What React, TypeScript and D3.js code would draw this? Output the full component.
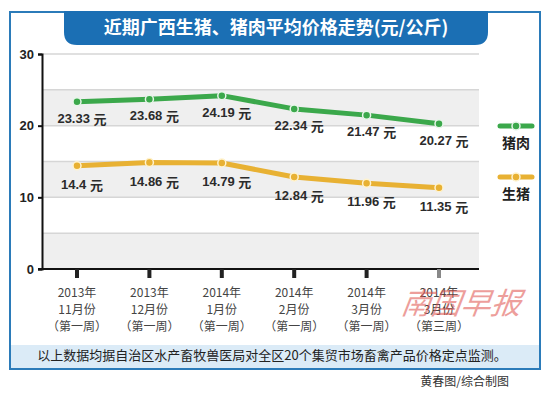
import * as React from 'react';
import * as d3 from 'd3';

const weeks = [
  ['2013年', '11月份', '（第一周）'],
  ['2013年', '12月份', '（第一周）'],
  ['2014年', '1月份', '（第一周）'],
  ['2014年', '2月份', '（第一周）'],
  ['2014年', '3月份', '（第一周）'],
  ['2014年', '3月份', '（第三周）'],
];
const porkPrices = [23.33, 23.68, 24.19, 22.34, 21.47, 20.27];
const hogPrices = [14.4, 14.86, 14.79, 12.84, 11.96, 11.35];
const yTicks = [0, 10, 20, 30];
const gridValues = [5, 10, 15, 20, 25, 30];

const seriesList = [
  { name: '猪肉', values: porkPrices, color: '#3ba84b', ring: '#e8f6ea', labelDy: 18 },
  { name: '生猪', values: hogPrices, color: '#e8b133', ring: '#fff3cf', labelDy: 20 },
];

const cjk = '"Noto Sans CJK SC", "Noto Sans", sans-serif';
const num = '"Liberation Sans", Arial, sans-serif';

const drawChart = (node: SVGSVGElement) => {
  const svg = d3.select(node);
  svg.selectAll('*').remove();

  const left = 42;
  const right = 479;
  const top = 54;
  const bottom = 269;

  const x = d3.scalePoint<number>()
    .domain(d3.range(weeks.length))
    .range([77, 439]);
  const y = d3.scaleLinear()
    .domain([0, 30])
    .range([bottom, top]);

  // frame
  svg.append('rect')
    .attr('x', 10).attr('y', 12)
    .attr('width', 530).attr('height', 357)
    .attr('fill', '#fff')
    .attr('stroke', '#2b7bb9')
    .attr('stroke-width', 2);

  // footer band
  svg.append('rect')
    .attr('x', 11).attr('y', 345)
    .attr('width', 528).attr('height', 23)
    .attr('fill', '#dbebf7');
  svg.append('text')
    .attr('x', 272).attr('y', 356)
    .attr('text-anchor', 'middle')
    .attr('dominant-baseline', 'middle')
    .attr('font-family', cjk)
    .attr('font-size', 13)
    .attr('fill', '#222')
    .text('以上数据均据自治区水产畜牧兽医局对全区20个集贸市场畜禽产品价格定点监测。');

  svg.append('text')
    .attr('x', 509).attr('y', 383)
    .attr('text-anchor', 'end')
    .attr('dominant-baseline', 'middle')
    .attr('font-family', cjk)
    .attr('font-size', 12)
    .attr('fill', '#333')
    .text('黄春图/综合制图');

  // title banner, rounded at bottom
  const tx0 = 64;
  const tx1 = 488;
  const ty0 = 11;
  const ty1 = 45;
  const r = 13;
  svg.append('path')
    .attr('d', `M${tx0},${ty0} H${tx1} V${ty1 - r} Q${tx1},${ty1} ${tx1 - r},${ty1} H${tx0 + r} Q${tx0},${ty1} ${tx0},${ty1 - r} Z`)
    .attr('fill', '#1b6fb4');
  svg.append('text')
    .attr('x', (tx0 + tx1) / 2).attr('y', 29)
    .attr('text-anchor', 'middle')
    .attr('dominant-baseline', 'middle')
    .attr('font-family', cjk)
    .attr('font-size', 18)
    .attr('font-weight', 'bold')
    .attr('fill', '#fff')
    .text('近期广西生猪、猪肉平均价格走势(元/公斤)');

  // alternating bands
  [[0, 5], [10, 15], [20, 25]].forEach(([a, b]) => {
    svg.append('rect')
      .attr('x', left).attr('y', y(b))
      .attr('width', right - left).attr('height', y(a) - y(b))
      .attr('fill', '#efefef');
  });
  svg.append('g')
    .selectAll('line')
    .data(gridValues)
    .join('line')
    .attr('x1', left).attr('x2', right)
    .attr('y1', d => y(d)).attr('y2', d => y(d))
    .attr('stroke', '#d6d6d6')
    .attr('stroke-width', 1.5);

  // y axis
  const yAxis = svg.append('g')
    .attr('transform', `translate(${left},0)`)
    .call(d3.axisLeft(y).tickValues(yTicks).tickSize(4).tickPadding(4));
  yAxis.select('.domain').attr('stroke', '#111').attr('stroke-width', 2);
  yAxis.selectAll('line').attr('stroke', '#111').attr('stroke-width', 2);
  yAxis.selectAll('text')
    .attr('font-family', num)
    .attr('font-size', 13)
    .attr('font-weight', 'bold')
    .attr('fill', '#222');

  // x axis
  svg.append('line')
    .attr('x1', left - 4).attr('x2', right)
    .attr('y1', bottom).attr('y2', bottom)
    .attr('stroke', '#111')
    .attr('stroke-width', 2);
  svg.append('g')
    .selectAll('rect')
    .data(weeks)
    .join('rect')
    .attr('x', (d, i) => (x(i) as number) - 2)
    .attr('y', bottom)
    .attr('width', 4).attr('height', 9)
    .attr('fill', (d, i) => (i === weeks.length - 1 ? '#888' : '#222'));

  // x labels, one text per line
  weeks.forEach((d, i) => {
    d.forEach((s, k) => {
      svg.append('text')
        .attr('x', x(i) as number)
        .attr('y', 294 + k * 17)
        .attr('text-anchor', 'middle')
        .attr('dominant-baseline', 'middle')
        .attr('font-family', cjk)
        .attr('font-size', 12)
        .attr('fill', '#444')
        .text(s);
    });
  });

  // lines
  const line = d3.line<number>()
    .x((d, i) => x(i) as number)
    .y(d => y(d));

  seriesList.forEach((s) => {
    svg.append('path')
      .datum(s.values)
      .attr('d', line)
      .attr('fill', 'none')
      .attr('stroke', s.color)
      .attr('stroke-width', 5)
      .attr('stroke-linejoin', 'round')
      .attr('stroke-linecap', 'round');
    svg.append('g')
      .selectAll('circle')
      .data(s.values)
      .join('circle')
      .attr('cx', (d, i) => x(i) as number)
      .attr('cy', d => y(d))
      .attr('r', 4)
      .attr('fill', s.color)
      .attr('stroke', s.ring)
      .attr('stroke-width', 1.5);
    svg.append('g')
      .selectAll('text')
      .data(s.values)
      .join('text')
      .attr('x', (d, i) => (x(i) as number) + 5)
      .attr('y', d => y(d) + s.labelDy)
      .attr('text-anchor', 'middle')
      .attr('dominant-baseline', 'middle')
      .attr('font-family', num)
      .attr('font-size', 13)
      .attr('font-weight', 'bold')
      .attr('fill', '#2b2b2b')
      .each(function (d) {
        d3.select(this).append('tspan').text(`${d} `);
        d3.select(this).append('tspan').attr('font-family', cjk).text('元');
      });
  });

  // legend
  const legendY = [126, 177];
  seriesList.forEach((s, i) => {
    const g = svg.append('g').attr('transform', `translate(516,${legendY[i]})`);
    g.append('line')
      .attr('x1', -16).attr('x2', 16)
      .attr('stroke', s.color)
      .attr('stroke-width', 5)
      .attr('stroke-linecap', 'round');
    g.append('circle')
      .attr('r', 4)
      .attr('fill', s.color)
      .attr('stroke', s.ring)
      .attr('stroke-width', 1.5);
    g.append('text')
      .attr('y', 18)
      .attr('text-anchor', 'middle')
      .attr('dominant-baseline', 'middle')
      .attr('font-family', cjk)
      .attr('font-size', 14)
      .attr('font-weight', 'bold')
      .attr('fill', '#222')
      .text(s.name);
  });

  // watermark
  svg.append('text')
    .attr('x', 462).attr('y', 306)
    .attr('text-anchor', 'middle')
    .attr('dominant-baseline', 'middle')
    .attr('font-family', cjk)
    .attr('font-size', 30)
    .attr('font-style', 'italic')
    .attr('fill', '#e0504a')
    .attr('opacity', 0.55)
    .attr('transform', 'skewX(-8) translate(42,0)')
    .text('南国早报');
};

const App = () => {
  const ref = React.useRef<SVGSVGElement>(null);
  React.useEffect(() => {
    if (ref.current) drawChart(ref.current);
  }, []);
  return (
    <svg
      ref={ref}
      width={550}
      height={394}
      style={{ position: 'absolute', left: 0, top: 0, background: '#fff' }}
    />
  );
};

export default App;
